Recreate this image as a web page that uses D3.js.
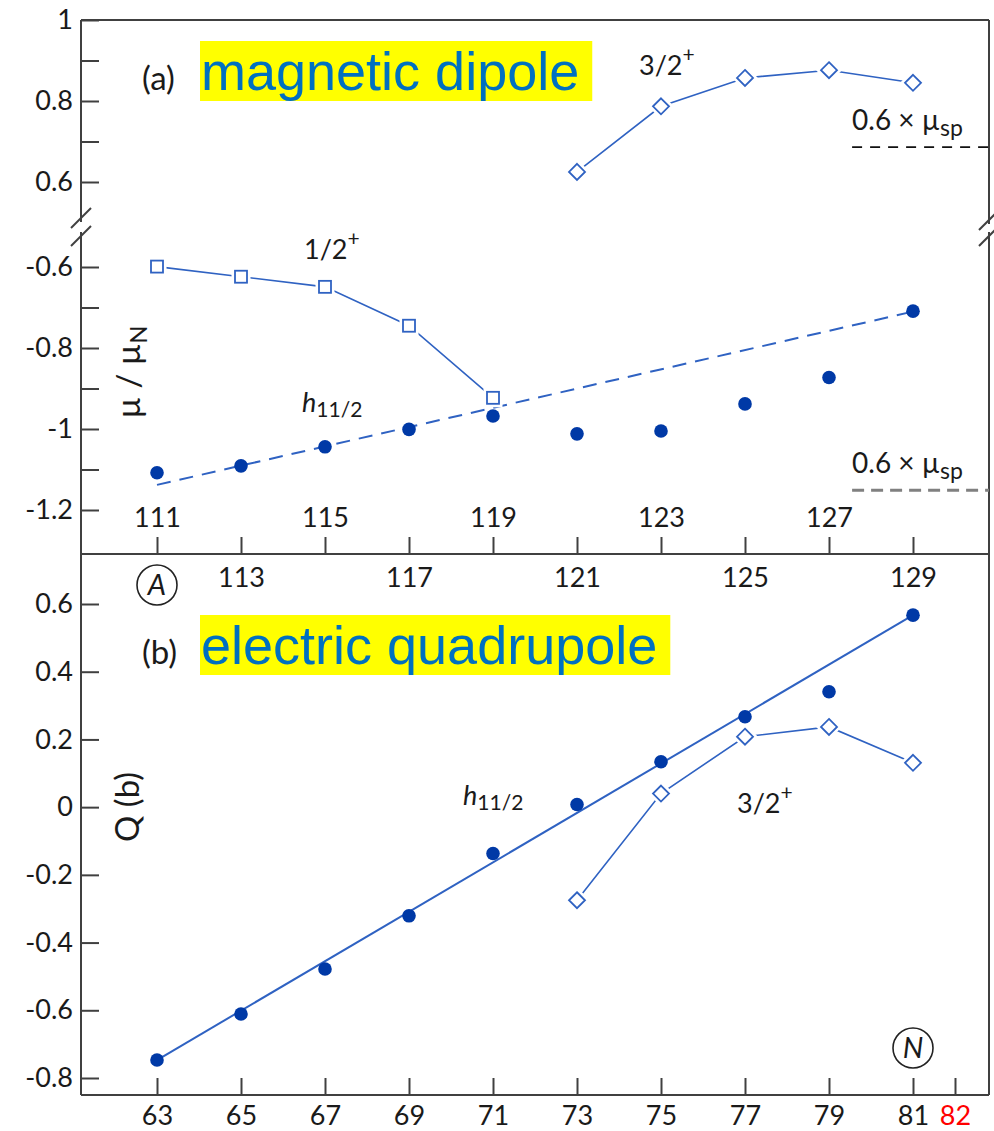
<!DOCTYPE html>
<html><head><meta charset="utf-8">
<script src="https://cdn.jsdelivr.net/npm/d3@7"></script>
<style>
body{margin:0;background:#fff;}
svg{display:block;font-family:Lato,"Open Sans",sans-serif;}
</style></head><body>
<svg id="chart" width="994" height="1131"></svg>
<script>
// mass numbers (top panel) and neutron numbers (bottom panel)
const massNumbers = [111,113,115,117,119,121,123,125,127,129];
const neutronNumbers = [63,65,67,69,71,73,75,77,79,81];

// magnetic moments, mu / mu_N
const muH112 = [-1.108,-1.091,-1.044,-1.001,-0.968,-1.012,-1.005,-0.938,-0.873,-0.709];
const massHalf = [111,113,115,117,119];
const muHalf = [-0.599,-0.624,-0.649,-0.745,-0.923];
const massThreeHalf = [121,123,125,127,129];
const muThreeHalf = [0.625,0.787,0.857,0.876,0.845];
const muTrendMass = [111,129];
const muTrend = [-1.138,-0.710];
const muSpLimits = [0.686,-1.151];
const spStartMass = 127.55;

// quadrupole moments, Q (b)
const qH112 = [-0.747,-0.611,-0.478,-0.321,-0.137,0.008,0.134,0.267,0.341,0.567];
const neutronThreeHalf = [73,75,77,79,81];
const qThreeHalf = [-0.275,0.040,0.208,0.237,0.131];
const qTrendN = [63,81];
const qTrend = [-0.747,0.567];

// tick values and labels
const muTicksHigh = [0.6,0.7,0.8,0.9,1.0];
const muLabelsHigh = ["0.6","","0.8","","1"];
const muTicksLow = [-1.2,-1.1,-1.0,-0.9,-0.8,-0.7,-0.6];
const muLabelsLow = ["-1.2","","-1","","-0.8","","-0.6"];
const qTicks = [-0.8,-0.6,-0.4,-0.2,0,0.2,0.4,0.6];
const qLabels = ["-0.8","-0.6","-0.4","-0.2","0","0.2","0.4","0.6"];
const massTicks = massNumbers;
const neutronTicks = [63,65,67,69,71,73,75,77,79,81,82];
const neutronLabels = ["63","65","67","69","71","73","75","77","79","81","82"];

const svg = d3.select("#chart");
const L = 81, R = 989, T = 20, MID = 554, B = 1095;
const AX = "#404040", FILL = "#0039A6", LINE = "#2F62C2", TXT = "#1a1a1a";

const xA = d3.scaleLinear().domain([111,129]).range([157,913]);
const xN = d3.scaleLinear().domain([63,81]).range([157,913]);
const yHigh = d3.scaleLinear().domain([0.6,1]).range([182,20]);
const yLow = d3.scaleLinear().domain([-1.2,-0.6]).range([510,267]);
const yQ = d3.scaleLinear().domain([-0.8,0.6]).range([1078,604]);

function styleAxis(g){
  g.select(".domain").remove();
  g.attr("font-family",null).attr("font-size",null);
  g.selectAll(".tick line").attr("stroke",AX).attr("stroke-width",2);
  g.selectAll(".tick text").attr("fill",TXT).style("font-size","27px");
}

// y axes
svg.append("g").attr("transform",`translate(${L},0)`)
  .call(d3.axisLeft(yHigh).tickValues(muTicksHigh).tickFormat((d,i)=>muLabelsHigh[i]).tickSizeInner(-18).tickSizeOuter(0).tickPadding(8))
  .call(styleAxis);
svg.append("g").attr("transform",`translate(${L},0)`)
  .call(d3.axisLeft(yLow).tickValues(muTicksLow).tickFormat((d,i)=>muLabelsLow[i]).tickSizeInner(-18).tickSizeOuter(0).tickPadding(8))
  .call(styleAxis);
svg.append("g").attr("transform",`translate(${L},0)`)
  .call(d3.axisLeft(yQ).tickValues(qTicks).tickFormat((d,i)=>qLabels[i]).tickSizeInner(-18).tickSizeOuter(0).tickPadding(8))
  .call(styleAxis);

// x axis shared by both panels: mass numbers alternate above / below
const gA = svg.append("g").attr("transform",`translate(0,${MID})`)
  .call(d3.axisBottom(xA).tickValues(massTicks).tickFormat(d3.format("d")).tickSizeInner(-17).tickSizeOuter(0))
  .call(styleAxis);
gA.selectAll(".tick text").attr("dy",null).attr("y",(d,i)=> i%2===0 ? -27 : 33);

const gN = svg.append("g").attr("transform",`translate(0,${B})`)
  .call(d3.axisBottom(xN).tickValues(neutronTicks).tickFormat((d,i)=>neutronLabels[i]).tickSizeInner(-17).tickSizeOuter(0))
  .call(styleAxis);
gN.selectAll(".tick text").attr("dy",null).attr("y",30).attr("fill",d=> d===82 ? "#ff0000" : TXT);

// frame
const frame = svg.append("g").attr("stroke",AX).attr("stroke-width",2).attr("fill","none");
frame.append("line").attr("x1",L).attr("x2",R).attr("y1",T).attr("y2",T);
frame.append("line").attr("x1",L).attr("x2",R).attr("y1",MID).attr("y2",MID);
frame.append("line").attr("x1",L).attr("x2",R).attr("y1",B).attr("y2",B);
frame.append("line").attr("x1",L).attr("x2",L).attr("y1",T).attr("y2",B);
frame.append("line").attr("x1",R).attr("x2",R).attr("y1",T).attr("y2",B);

// axis break marks
function breakMark(x, y1, y2){
  const g = svg.append("g");
  g.append("rect").attr("x",x-6).attr("y",y1+4).attr("width",12).attr("height",y2-y1-8).attr("fill","#fff");
  [y1,y2].forEach(y=>{
    g.append("line").attr("x1",x-10).attr("y1",y+10).attr("x2",x+10).attr("y2",y-10)
      .attr("stroke",AX).attr("stroke-width",2);
  });
}
breakMark(L,218,236);
breakMark(R,220,236);

// 0.6 x mu_sp reference levels
svg.append("line").attr("x1",xA(spStartMass)).attr("x2",R).attr("y1",yHigh(muSpLimits[0])).attr("y2",yHigh(muSpLimits[0]))
  .attr("stroke","#111").attr("stroke-width",1.6).attr("stroke-dasharray","10,8");
svg.append("line").attr("x1",xA(spStartMass)).attr("x2",R).attr("y1",yLow(muSpLimits[1])).attr("y2",yLow(muSpLimits[1]))
  .attr("stroke","#808080").attr("stroke-width",3).attr("stroke-dasharray","12,7");

function spLabel(y){
  const t = svg.append("text").attr("x",xA(spStartMass)).attr("y",y).attr("fill",TXT).style("font-size","28px");
  t.append("tspan").text("0.6 \u00d7 \u00b5");
  t.append("tspan").attr("dy",6).style("font-size","23px").text("sp");
}
spLabel(yHigh(muSpLimits[0]) - 17);
spLabel(yLow(muSpLimits[1]) - 17);

// trend lines
svg.append("line")
  .attr("x1",xA(muTrendMass[0])).attr("y1",yLow(muTrend[0]))
  .attr("x2",xA(muTrendMass[1])).attr("y2",yLow(muTrend[1]))
  .attr("stroke",LINE).attr("stroke-width",2).attr("stroke-dasharray","14,9");
svg.append("line")
  .attr("x1",xN(qTrendN[0])).attr("y1",yQ(qTrend[0]))
  .attr("x2",xN(qTrendN[1])).attr("y2",yQ(qTrend[1]))
  .attr("stroke",LINE).attr("stroke-width",2);

// connected open-marker series
const lineGen = (xs, ys, fx, fy) => d3.line().x((d,i)=>fx(xs[i])).y((d,i)=>fy(ys[i]))(ys);
[[massHalf,muHalf,xA,yLow],[massThreeHalf,muThreeHalf,xA,yHigh],[neutronThreeHalf,qThreeHalf,xN,yQ]]
  .forEach(([xs,ys,fx,fy])=>{
    svg.append("path").attr("d",lineGen(xs,ys,fx,fy)).attr("fill","none").attr("stroke",LINE).attr("stroke-width",1.6);
  });

const diamond = "M0,-8L8,0L0,8L-8,0Z";
function squares(xs, ys, fx, fy){
  const g = svg.append("g");
  ys.forEach((v,i)=>{
    const cx = fx(xs[i]), cy = fy(v);
    g.append("rect").attr("x",cx-6).attr("y",cy-6).attr("width",12).attr("height",12)
      .attr("fill","#fff").attr("stroke","#fff").attr("stroke-width",7);
    g.append("rect").attr("x",cx-6).attr("y",cy-6).attr("width",12).attr("height",12)
      .attr("fill","#fff").attr("stroke",LINE).attr("stroke-width",1.8);
  });
}
function diamonds(xs, ys, fx, fy){
  const g = svg.append("g");
  ys.forEach((v,i)=>{
    const tr = `translate(${fx(xs[i])},${fy(v)})`;
    g.append("path").attr("d",diamond).attr("transform",tr).attr("fill","#fff").attr("stroke","#fff").attr("stroke-width",7);
    g.append("path").attr("d",diamond).attr("transform",tr).attr("fill","#fff").attr("stroke",LINE).attr("stroke-width",1.8);
  });
}
squares(massHalf,muHalf,xA,yLow);
diamonds(massThreeHalf,muThreeHalf,xA,yHigh);
diamonds(neutronThreeHalf,qThreeHalf,xN,yQ);

// h11/2 filled points
svg.append("g").selectAll("circle").data(muH112).join("circle")
  .attr("cx",(d,i)=>xA(massNumbers[i])).attr("cy",d=>yLow(d)).attr("r",6.8).attr("fill",FILL);
svg.append("g").selectAll("circle").data(qH112).join("circle")
  .attr("cx",(d,i)=>xN(neutronNumbers[i])).attr("cy",d=>yQ(d)).attr("r",6.8).attr("fill",FILL);

// state labels
function spinLabel(x, y, txt){
  const t = svg.append("text").attr("x",x).attr("y",y).attr("fill",TXT).style("font-size","27px");
  t.append("tspan").text(txt);
  t.append("tspan").attr("dy",-13).style("font-size","21px").text("+");
}
spinLabel(639,75,"3/2");
spinLabel(304,259,"1/2");
spinLabel(737,813,"3/2");

function hLabel(x, y){
  const t = svg.append("text").attr("x",x).attr("y",y).attr("fill",TXT).style("font-size","27px");
  t.append("tspan").style("font-style","italic").text("h");
  t.append("tspan").attr("dy",5).style("font-size","21px").text("11/2");
}
hLabel(302,412);
hLabel(463,805);

// panel titles
function title(tag, txt, baseline){
  svg.append("text").attr("x",142).attr("y",baseline).attr("fill",TXT).style("font-size","33px").text(tag);
  const g = svg.append("g");
  const rect = g.append("rect").attr("fill","#ffff00");
  const t = g.append("text").attr("x",201).attr("y",baseline)
    .style("font-family","'Liberation Sans',Arial,sans-serif").style("font-size","54px").attr("fill","#0070C0").text(txt);
  const bb = t.node().getBBox();
  rect.attr("x",200).attr("y",baseline-49).attr("width",bb.x+bb.width-200+13).attr("height",60);
}
title("(a)","magnetic dipole",90);
title("(b)","electric quadrupole",664);

// axis titles
const muTitle = svg.append("text").attr("transform","translate(140,372) rotate(-90)")
  .attr("text-anchor","middle").attr("fill",TXT).style("font-size","33px");
muTitle.append("tspan").text("\u00b5 / \u00b5");
muTitle.append("tspan").attr("dy",7).style("font-size","24px").text("N");

svg.append("text").attr("transform","translate(139,807) rotate(-90)")
  .attr("text-anchor","middle").attr("fill",TXT).style("font-size","33px").text("Q (b)");

// circled axis symbols
function circled(cx, cy, s){
  svg.append("circle").attr("cx",cx).attr("cy",cy).attr("r",20).attr("fill","#fff").attr("stroke","#222").attr("stroke-width",1.6);
  svg.append("text").attr("x",cx).attr("y",cy+10).attr("text-anchor","middle").attr("fill",TXT)
    .style("font-size","29px").style("font-style","italic").text(s);
}
circled(xA(111),585,"A");
circled(xN(81),1048,"N");
</script>
</body></html>
